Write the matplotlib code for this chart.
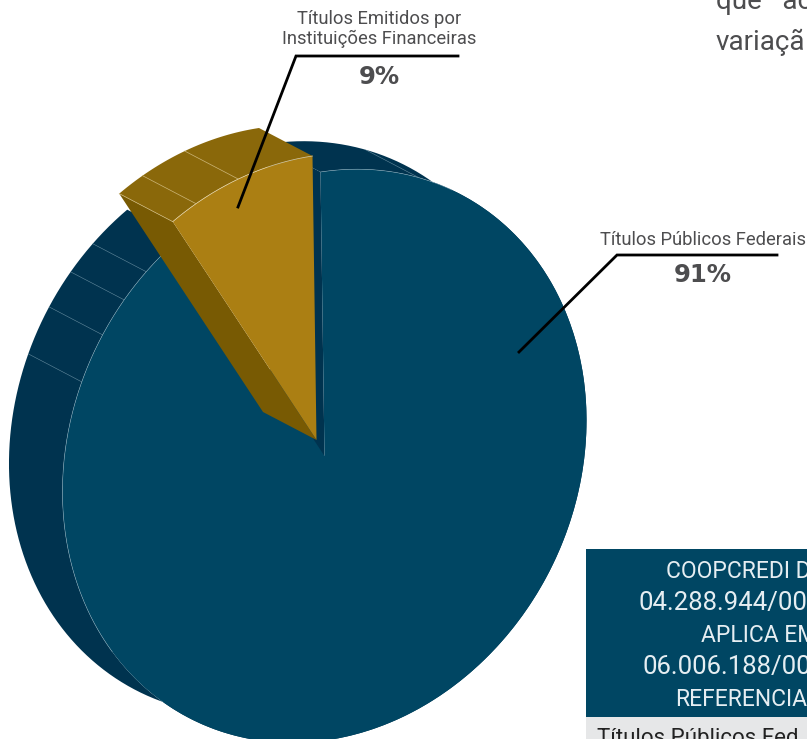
import numpy as np
import matplotlib
matplotlib.use('Agg')
import matplotlib.pyplot as plt
from matplotlib.transforms import Affine2D
from matplotlib.patches import Rectangle

categorias = ['Títulos Públicos Federais', 'Títulos Emitidos por\nInstituições Financeiras']
valores = [91, 9]
tabela_titulo = ['COOPCREDI D', '04.288.944/00', 'APLICA EM', '06.006.188/00', 'REFERENCIA']
tabela_x = [666, 639, 701, 642, 675]
tabela_y = [571, 603, 635, 667, 699]
texto_topo = ['que   ac', 'variaçã']

# angulos das divisoes claras na lateral do grafico
divisoes_azul = [68, 132, 139, 147, 157]
divisoes_ouro = [106.5, 116.5]

AZUL, AZUL_ESC = '#004663', '#00334f'
OURO, OURO_ESC, OURO_LADO = '#ab7f13', '#8a680a', '#785a03'
CLARO = '#8fb0bf'
CINZA = '#4d4d4f'

plt.rcParams['font.family'] = ['Roboto', 'DejaVu Sans']

fig = plt.figure(figsize=(8.07, 7.39), dpi=100)
ax = fig.add_axes([0, 0, 1, 1])

wedges, _ = ax.pie(valores, colors=[AZUL, OURO], startangle=90, counterclock=False, frame=True)
ax.set_aspect('auto')
ax.set_xlim(0, 807)
ax.set_ylim(739, 0)
ax.axis('off')

# circulo unitario -> elipse inclinada em pixels
cx, cy = 324.5, 456
a, b, c, d = 262, -40, -4, -284
extr = np.array([-53.5, -28])
expl = np.array([-8, -16])


def borda(t1, t2, n=200):
    t = np.radians(np.linspace(t1, t2, n))
    x = cx + a * np.cos(t) + c * np.sin(t)
    y = cy + b * np.cos(t) + d * np.sin(t)
    return np.column_stack([x, y])


def lateral(t1, t2, desl, cor, z):
    p = borda(t1, t2) + desl
    poly = np.vstack([p, (p + extr)[::-1]])
    ax.fill(poly[:, 0], poly[:, 1], color=cor, lw=0, zorder=z)


def corte(t, desl, cor, z):
    p = borda(t, t, 1)[0] + desl
    o = np.array([cx, cy]) + desl
    poly = np.array([o, p, p + extr, o + extr])
    ax.fill(poly[:, 0], poly[:, 1], color=cor, lw=0, zorder=z)


base = Affine2D.from_values(a, b, c, d, cx, cy)
grande, fatia = wedges

# fatia maior
lateral(grande.theta1, grande.theta2, 0, AZUL_ESC, 2)
corte(grande.theta2, 0, AZUL_ESC, 2)
grande.set_transform(base + ax.transData)
grande.set_zorder(3)
grande.set_linewidth(0)

p = borda(122.4, 215)
ax.plot(p[:, 0], p[:, 1], color=CLARO, lw=0.4, alpha=0.8, zorder=4)
p = borda(60, 90)
ax.plot(p[:, 0], p[:, 1], color=CLARO, lw=0.4, alpha=0.8, zorder=4)
for t in divisoes_azul:
    p = borda(t, t, 1)[0]
    ax.plot([p[0], p[0] + extr[0]], [p[1], p[1] + extr[1]], color=CLARO, lw=0.4, alpha=0.7, zorder=2.5)

# fatia destacada
lateral(fatia.theta1, fatia.theta2, expl, OURO_ESC, 5)
corte(fatia.theta2, expl, OURO_LADO, 5)
fatia.set_transform(base + Affine2D().translate(*expl) + ax.transData)
fatia.set_zorder(6)
fatia.set_linewidth(0)
p = borda(fatia.theta1, fatia.theta2) + expl
ax.plot(p[:, 0], p[:, 1], color='#e3d3a8', lw=0.5, zorder=7)
for t in divisoes_ouro + [fatia.theta2]:
    p = borda(t, t, 1)[0] + expl
    ax.plot([p[0], p[0] + extr[0]], [p[1], p[1] + extr[1]], color='#cdb77a', lw=0.5, zorder=5.5)

# linhas de chamada
ax.plot([238, 296, 458], [207, 56, 56], color='black', lw=2, zorder=8, solid_joinstyle='miter')
ax.plot([519, 617, 777], [352, 255, 255], color='black', lw=2, zorder=8, solid_joinstyle='miter')

ax.text(703, 240, categorias[0], ha='center', va='center', fontsize=13.2, color=CINZA)
ax.text(379, 29, categorias[1], ha='center', va='center', fontsize=13.2, color=CINZA, linespacing=1.15)
ax.text(703, 275, f'{valores[0]}%', ha='center', va='center', fontsize=17.5, color=CINZA, fontweight='bold', family='DejaVu Sans')
ax.text(379, 77, f'{valores[1]}%', ha='center', va='center', fontsize=17.5, color=CINZA, fontweight='bold', family='DejaVu Sans')

# texto cortado no canto superior
ax.text(716, 9, texto_topo[0], ha='left', va='baseline', fontsize=20, color=CINZA)
ax.text(716, 50, texto_topo[1], ha='left', va='baseline', fontsize=20, color=CINZA)

# tabela cortada
ax.add_patch(Rectangle((586, 549), 221, 168, color=AZUL, lw=0, zorder=1))
ax.add_patch(Rectangle((586, 717), 221, 22, color='#e6e7e8', lw=0, zorder=1))
for txt, x, y in zip(tabela_titulo, tabela_x, tabela_y):
    tam = 18.5 if txt[0].isdigit() else 16.5
    ax.text(x, y, txt, ha='left', va='center', fontsize=tam, color='#e6eef2', zorder=2)
ax.text(597, 739, categorias[0][:20], ha='left', va='center', fontsize=16, color='#222222', zorder=2)

fig.savefig('out.png', dpi=100)
